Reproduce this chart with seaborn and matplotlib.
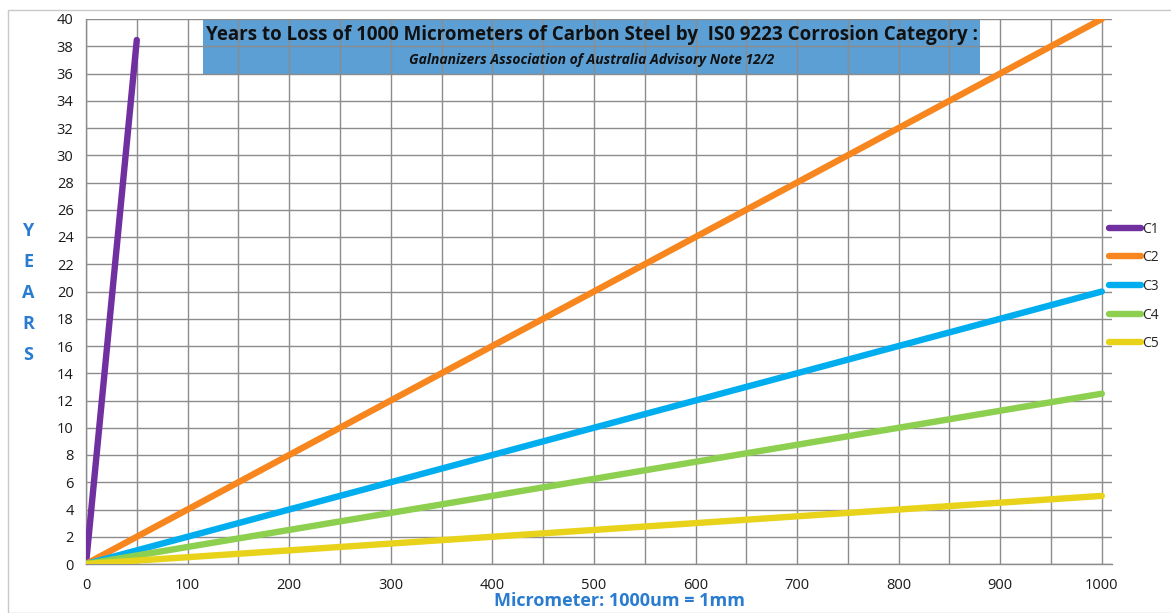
import matplotlib
matplotlib.use("Agg")
import matplotlib.pyplot as plt
import matplotlib.patches as mpatches
import numpy as np
import pandas as pd
import seaborn as sns

# Thickness lost (micrometres) and the years it takes, per ISO 9223 category
micrometers = [0, 100, 200, 300, 400, 500, 600, 700, 800, 900, 1000]
c1_micrometers = [0, 50]
c1_years = [0, 38.46]
c2_years = [0, 4, 8, 12, 16, 20, 24, 28, 32, 36, 40]
c3_years = [0, 2, 4, 6, 8, 10, 12, 14, 16, 18, 20]
c4_years = [0, 1.25, 2.5, 3.75, 5, 6.25, 7.5, 8.75, 10, 11.25, 12.5]
c5_years = [0, 0.5, 1, 1.5, 2, 2.5, 3, 3.5, 4, 4.5, 5]
categories = ["C1", "C2", "C3", "C4", "C5"]
colors = ["#7030A0", "#F7861E", "#00AEEF", "#8DCF4F", "#E8D31A"]

x_ticks = [0, 100, 200, 300, 400, 500, 600, 700, 800, 900, 1000]
y_ticks = list(range(0, 41, 2))

title = "Years to Loss of 1000 Micrometers of Carbon Steel by  IS0 9223 Corrosion Category :"
subtitle = "Galnanizers Association of Australia Advisory Note 12/2"

frames = [pd.DataFrame({"um": c1_micrometers, "years": c1_years, "cat": "C1"})]
for cat, ys in zip(categories[1:], [c2_years, c3_years, c4_years, c5_years]):
    frames.append(pd.DataFrame({"um": micrometers, "years": ys, "cat": cat}))
df = pd.concat(frames, ignore_index=True)

sns.set_theme(style="white")
plt.rcParams["font.family"] = ["Open Sans", "DejaVu Sans"]

W, H = 1171, 613
fig = plt.figure(figsize=(W / 100, H / 100), dpi=100)
ax = fig.add_axes([86 / W, 1 - 564 / H, (1112 - 86) / W, (564 - 19) / H])

grid_c = "#8C8C8C"
ax.set_xlim(0, 1010)
ax.set_ylim(0, 40)
ax.set_xticks(x_ticks)
ax.set_xticks(np.arange(50, 1001, 100), minor=True)
ax.set_yticks(y_ticks)
ax.grid(True, which="both", color=grid_c, linewidth=1.0, zorder=1)
for s in ["top", "right"]:
    ax.spines[s].set_visible(False)
for s in ["left", "bottom"]:
    ax.spines[s].set_color(grid_c)
    ax.spines[s].set_linewidth(1.0)
ax.tick_params(axis="both", which="both", direction="out", length=5, color=grid_c,
               width=1.0, labelsize=10.5, labelcolor="#1a1a1a")
ax.tick_params(axis="x", pad=5)
ax.tick_params(axis="y", pad=4)

# Title banner sits underneath the grid
ax.add_patch(mpatches.Rectangle((115, 36), 880 - 115, 4, transform=ax.transData,
                                facecolor="#5B9FD5", edgecolor="none", zorder=0.2))

sns.lineplot(data=df, x="um", y="years", hue="cat", palette=colors, hue_order=categories,
             linewidth=4.6, sort=False, ax=ax, zorder=3)

for line in ax.get_lines():
    line.set_solid_capstyle("round")

ax.set_xlabel("")
ax.set_ylabel("")

leg = ax.legend(loc="upper left", bbox_to_anchor=(0.997, 0.628), frameon=False,
                fontsize=10, handlelength=2.3, handletextpad=0.1, labelspacing=0.98,
                borderaxespad=0, borderpad=0)
for h in leg.get_lines():
    h.set_linewidth(4.6)
    h.set_solid_capstyle("round")

fig.text(592 / W, 1 - 35 / H, title, ha="center", va="center", fontsize=13.5,
         fontweight="bold", color="#111111")
fig.text(592 / W, 1 - 60 / H, subtitle, ha="center", va="center", fontsize=10,
         fontweight="bold", style="italic", color="#111111")

blue = "#2A7CD0"
fig.text(28 / W, 1 - 293 / H, "Y\nE\nA\nR\nS", ha="center", va="center", fontsize=13,
         fontweight="bold", color=blue, linespacing=1.93)
fig.text(620 / W, 1 - 601 / H, "Micrometer: 1000um = 1mm", ha="center", va="center",
         fontsize=13, fontweight="bold", color=blue)

# Outer chart frame
fig.add_artist(mpatches.Rectangle((8 / W, 0), 1.2, 1 - 10 / H, transform=fig.transFigure,
                                  facecolor="none", edgecolor="#C8C8C8", linewidth=1.0))

fig.savefig("out.png", dpi=100)
